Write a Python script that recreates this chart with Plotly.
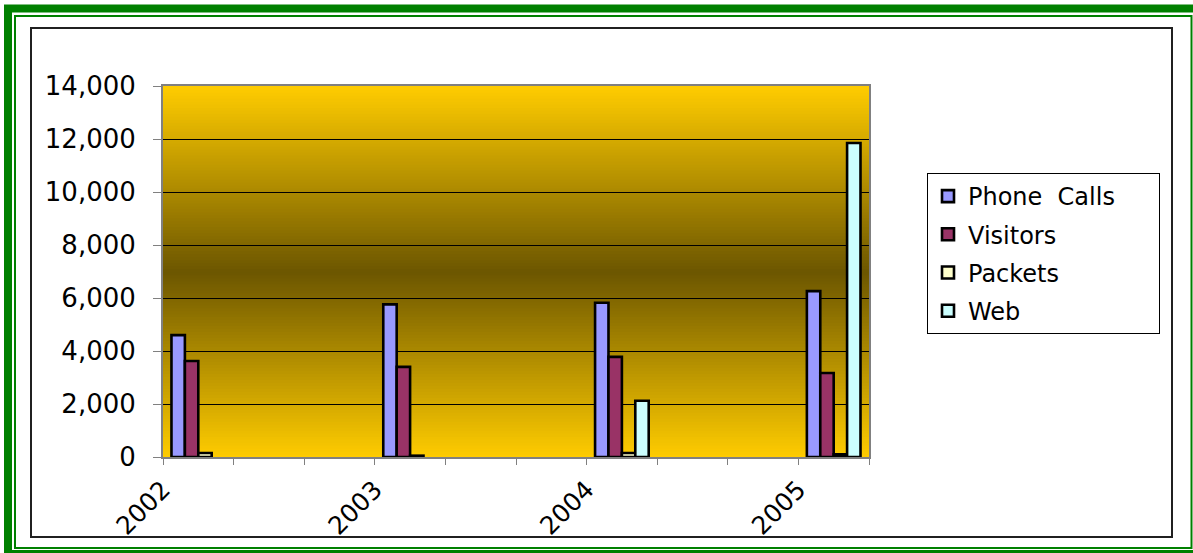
import plotly.graph_objects as go

# ---- data -------------------------------------------------------------
years = [2002, 2003, 2004, 2005]
phone_calls = [4600, 5760, 5820, 6260]
visitors = [3620, 3400, 3780, 3170]
packets = [150, 50, 150, 100]
web = [None, None, 2120, 11850]

series_names = ["Phone\u00a0\u00a0Calls\u00a0\u00a0\u00a0\u00a0\u00a0", "Visitors", "Packets", "Web"]
series_values = [phone_calls, visitors, packets, web]
series_colors = ["#9999FF", "#993366", "#FFFFCC", "#CCFFFF"]

y_ticks = [0, 2000, 4000, 6000, 8000, 10000, 12000, 14000]

# ---- geometry ---------------------------------------------------------
W, H = 1193, 553
PL, PR, PT, PB = 163, 869, 86, 457  # plot area in pixels


def px_x(p):
    return (p - PL) / (PR - PL)


def px_y(p):
    return (PB - p) / (PB - PT)


BAR_W = 0.0633
GROUP_START = 0.04
FONT = "DejaVu Sans"

fig = go.Figure()
for i, (name, vals, col) in enumerate(zip(series_names, series_values, series_colors)):
    fig.add_trace(go.Bar(
        x=years, y=vals, name=name,
        width=BAR_W, offset=GROUP_START + i * BAR_W,
        marker=dict(color=col, line=dict(color="black", width=2.6)),
        legendgroup=f"g{i}",
    ))

shapes = []

# vertical gold -> dark -> gold gradient of the plot area
gold = (255, 204, 0)
dark = (108, 86, 0)
N = 124
for k in range(N):
    t = (k + 0.5) / N
    d = 1 - abs(2 * t - 1)
    c = tuple(round(g * (1 - d) + dk * d) for g, dk in zip(gold, dark))
    shapes.append(dict(
        type="rect", xref="paper", yref="paper", layer="below",
        x0=0, x1=1, y0=k / N - 0.002, y1=(k + 1) / N + 0.002,
        line=dict(width=0), fillcolor="rgb(%d,%d,%d)" % c,
    ))

# chart-area frame
shapes.append(dict(
    type="rect", xref="paper", yref="paper", layer="below",
    x0=px_x(31), x1=px_x(1172), y0=px_y(537), y1=px_y(28),
    line=dict(color="#202020", width=2), fillcolor="rgba(0,0,0,0)",
))
# green double border
shapes.append(dict(
    type="rect", xref="paper", yref="paper", layer="below",
    x0=px_x(8), x1=px_x(1198), y0=px_y(554), y1=px_y(8.5),
    line=dict(color="#008000", width=8), fillcolor="rgba(0,0,0,0)",
))
shapes.append(dict(
    type="rect", xref="paper", yref="paper", layer="below",
    x0=px_x(15), x1=px_x(1191.5), y0=px_y(548), y1=px_y(16),
    line=dict(color="#008000", width=2), fillcolor="rgba(0,0,0,0)",
))

x_tickvals = [years[0] + k / 3 for k in range(3 * (len(years) - 1) + 2)]
x_ticktext = [str(round(v)) if abs(v - round(v)) < 1e-6 else "" for v in x_tickvals]

fig.update_layout(
    width=W, height=H,
    margin=dict(l=PL, r=W - PR, t=PT, b=H - PB, pad=0),
    paper_bgcolor="white",
    plot_bgcolor="#FFCC00",
    barmode="overlay",
    font=dict(family=FONT, size=24, color="black"),
    shapes=shapes,
    showlegend=True,
    legend=dict(
        x=px_x(927), y=px_y(173), xanchor="left", yanchor="top",
        bgcolor="white", bordercolor="black", borderwidth=1,
        font=dict(family=FONT, size=24, color="black"),
        tracegroupgap=4, traceorder="grouped",
    ),
    xaxis=dict(
        range=[years[0], years[-1] + 1 / 3],
        tickmode="array", tickvals=x_tickvals, ticktext=x_ticktext,
        tickangle=-45, ticks="outside", ticklen=6, tickcolor="#808080",
        showgrid=False, zeroline=False,
        showline=True, linecolor="#808080", linewidth=2, mirror=True,
        tickfont=dict(family=FONT, size=25, color="black"),
    ),
    yaxis=dict(
        range=[0, 14000], tickvals=y_ticks, tickformat=",",
        ticks="outside", ticklen=8, tickcolor="#808080",
        showgrid=True, gridcolor="black", gridwidth=1, zeroline=False,
        showline=True, linecolor="#808080", linewidth=2, mirror=True,
        tickfont=dict(family=FONT, size=26, color="black"),
        ticklabelstandoff=12,
    ),
)

fig.write_html("out.html")
